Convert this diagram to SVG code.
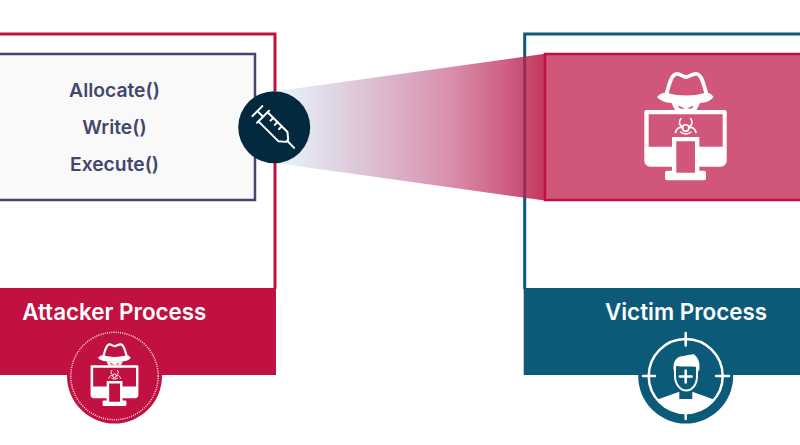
<svg xmlns="http://www.w3.org/2000/svg" xmlns:xlink="http://www.w3.org/1999/xlink" width="800" height="445" viewBox="0 0 800 445">
<style>
text{font-family:Inter,"Liberation Sans",sans-serif;font-weight:600}
.fn{font-size:19.300px;fill:#44466c;text-anchor:middle}
.ttl{font-size:22.400px;fill:#fff;text-anchor:middle}
.ln{fill:none;stroke:#fff;stroke-linecap:round;stroke-linejoin:round}
.wh{fill:#fff}
</style>
<defs>
<linearGradient id="beam" gradientUnits="userSpaceOnUse" x1="274" y1="0" x2="546" y2="0">
<stop offset="0" stop-color="#e6eef7"/>
<stop offset=".06" stop-color="#e6eef7"/>
<stop offset=".353" stop-color="#dcc0d4"/>
<stop offset=".647" stop-color="#d890ac"/>
<stop offset=".868" stop-color="#ce5a80"/>
<stop offset=".904" stop-color="#ba2855" stop-opacity=".8"/>
<stop offset="1" stop-color="#b70032" stop-opacity=".8"/>
</linearGradient>
<symbol id="hacker" overflow="visible" viewBox="0 0 800 445" width="800" height="445">
<path class="ln" stroke-width="3.800" d="M666.500 94C669 85 671 75 676 74C680 73.500 683 77 686 77C689 77 693 73 697 74C702 75 704 86 706.500 94"/>
<path class="wh" d="M657 97Q662 92 667 93Q686 98 705 93Q710 92 713.500 97Q710 102.500 700 103Q686 104.500 672 103Q661 102.500 657 97Z"/>
<path class="wh" fill-rule="evenodd" d="M671.500 103H700L696.500 110H675ZM678 105.500L685 108.500Q681 109 679 108ZM693.500 105.500L687 108.500Q691 109 692.500 108Z"/>
<path class="wh" fill-rule="evenodd" d="M646.300 110H724.700a2 2 0 0 1 2 2V160.700a6 6 0 0 1-6 6H699.300V170.700H704a2 2 0 0 1 2 2V178.300a2 2 0 0 1-2 2H667a2 2 0 0 1-2-2V172.700a2 2 0 0 1 2-2H672V166.700H650.300a6 6 0 0 1-6-6V112a2 2 0 0 1 2-2ZM648.700 114.300V146.700H672V137H699.300V146.700H722.700V114.300ZM676.300 141.300V172.700H695V141.300Z"/>
<g class="ln" stroke-width="1.600">
<path d="M681 118.500C678.500 121 679 125 682 126.500M690.500 118.500C693 121 692.500 125 689.500 126.500M675.500 132.500C676.500 128 680 126.500 683 128M696 132.500C695 128 691.500 126.500 688.500 128"/>
<circle cx="685.700" cy="128" r="3.200"/>
<path d="M680.500 132C683 134.500 688.500 134.500 691 132"/>
</g>
</symbol>
</defs>

<g id="attacker-frame">
<path d="M-3 34H275V289" fill="#fff" stroke="#c11140" stroke-width="3"/>
</g>
<g id="victim-frame">
<path d="M803 34H524.700V289" fill="#fff" stroke="#0b5a78" stroke-width="3"/>
</g>

<g id="connectors">
<polygon points="274,91.500 545,53.800 545,200.600 274,162.800" fill="url(#beam)"/>
</g>

<g id="code-box">
<rect x="-5" y="54" width="260" height="146" fill="#f9f9f9" stroke="#46466c" stroke-width="2.500"/>
<text class="fn" x="114.500" y="96.500">Allocate()</text>
<text class="fn" x="114.500" y="134">Write()</text>
<text class="fn" x="114.500" y="171">Execute()</text>
</g>

<g id="injected-box">
<rect x="545" y="54" width="260" height="146" fill="#d1577a" stroke="#c0103f" stroke-width="2.500"/>
<use xlink:href="#hacker" href="#hacker"/>
</g>

<g id="syringe">
<circle cx="274.200" cy="127.200" r="36" fill="#03293f"/>
<g transform="translate(275.800 129.500) rotate(45)" fill="none" stroke="#fff" stroke-width="2" stroke-linecap="round" stroke-linejoin="round">
<path d="M-26-7V7M-26 0H-18M-18-8.500V8.500"/>
<path d="M-18-6.500H10L16-1.500V1.500L10 6.500H-18"/>
<path d="M16 0H26"/>
<path d="M-10-6.500V-2.500M-4-6.500V-2.500M2-6.500V-2.500"/>
</g>
</g>

<g id="attacker-process">
<rect x="-2" y="288" width="278" height="87" fill="#c11140"/>
<circle cx="114.500" cy="376" r="47.500" fill="#c11140"/>
<circle cx="114.500" cy="376" r="43.700" fill="none" stroke="#fff" stroke-width="1.500" stroke-dasharray="1 1.200" opacity=".9"/>
<use xlink:href="#hacker" href="#hacker" transform="translate(-283.100 301.500) scale(.58)"/>
<text class="ttl" x="114.300" y="320">Attacker Process</text>
</g>

<g id="victim-process">
<rect x="523.700" y="288" width="280" height="87" fill="#0b5a78"/>
<circle cx="685.700" cy="376" r="47.500" fill="#0b5a78"/>
<text class="ttl" x="686" y="320">Victim Process</text>
<g class="ln" stroke-width="2.500">
<circle cx="685.700" cy="376" r="37"/>
<path d="M685.700 333V345.500M685.700 407V419M643 376H655M716 376H729"/>
<path d="M675 366V376C675 385 681 390.500 686 390.500C692 390.500 697 385 697 376V366" stroke-width="2"/>
<path d="M685.700 370.500V382.500M679.700 376.500H691.700"/>
</g>
<path class="wh" d="M674 372C672 362 676 356 684 356C688 354.500 692 355 693.500 354C699 358 700.500 364 699 372L697 367C692 366 684 367 676 366Z"/>
<path class="wh" d="M657.500 399.500L679.300 391.700V399H692.300V391.700L713.900 399.500A37 37 0 0 1 657.500 399.500Z"/>
</g>
</svg>
